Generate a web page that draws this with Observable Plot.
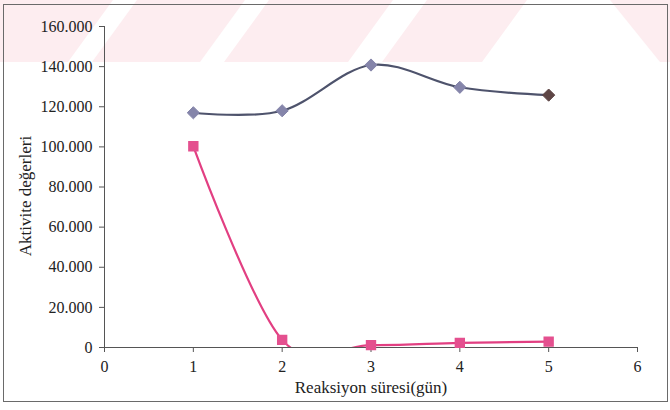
<!DOCTYPE html>
<html>
<head>
<meta charset="utf-8">
<script src="https://cdn.jsdelivr.net/npm/d3@7"></script>
<script src="https://cdn.jsdelivr.net/npm/@observablehq/plot@0.6"></script>
<style>
  html, body { margin: 0; padding: 0; background: #fff; }
  #wrap { position: relative; width: 670px; height: 410px; overflow: hidden; }
  #band { position: absolute; left: 0; top: 0; }
  #frame { position: absolute; left: 3px; top: 4px; width: 663px; height: 396px; border: 1px solid #6a6a6a; }
  #chart { position: absolute; left: 0; top: 0; }
  #chart svg, #chart svg text { font-family: "Times New Roman", "Liberation Serif", serif !important; }
</style>
</head>
<body>
<div id="wrap">
  <svg id="band" width="670" height="62"></svg>
  <div id="frame"></div>
  <div id="chart"></div>
</div>
<script>
// Data
const days = [1, 2, 3, 4, 5];
const seriesA = [117000, 118000, 140800, 129700, 125800];   // diamonds
const seriesAFill = ["#8585aa", "#8585aa", "#8585aa", "#8585aa", "#5e4646"];
const seriesB = [100300, 3800, 1200, 2300, 2900];           // squares
const xTicks = [0, 1, 2, 3, 4, 5, 6];
const yTicks = [0, 20000, 40000, 60000, 80000, 100000, 120000, 140000, 160000];
const xLabel = "Reaksiyon süresi(gün)";
const yLabel = "Aktivite değerleri";

// decorative scan watermark band (background only)
const stripes = [[-60, 68], [92, 200], [224, 348], [382, 482]];
const band = d3.select("#band");
stripes.forEach(([a, b]) => {
  band.append("polygon").attr("points", `${a},62 ${b},62 ${b + 45},0 ${a + 45},0`).attr("fill", "#fdedf0");
});
band.append("polygon").attr("points", "610,0 670,0 670,62 660,62").attr("fill", "#fdedf0");

const locale = d3.formatLocale({decimal: ",", thousands: ".", grouping: [3], currency: ["", ""]});
const fmt = locale.format(",d");

const dataA = days.map((d, i) => ({x: d, y: seriesA[i], f: seriesAFill[i]}));
const dataB = days.map((d, i) => ({x: d, y: seriesB[i]}));

const axisColor = "#555";

const chart = Plot.plot({
  width: 670,
  height: 410,
  marginLeft: 104,
  marginRight: 33,
  marginTop: 26,
  marginBottom: 63,
  style: {fontFamily: "Times New Roman", fontSize: "16px", background: "transparent", color: "#222"},
  x: {domain: [0, 6]},
  y: {domain: [0, 160000]},
  marks: [
    Plot.axisX({ticks: xTicks, tickSize: 5, tickPadding: 8, tickFormat: d => String(d), stroke: axisColor,
      label: null, fill: "#222"}),
    Plot.text([xLabel], {frameAnchor: "bottom", text: d => d, textAnchor: "middle", lineAnchor: "middle",
      dy: 40, fill: "#222", fontSize: 17}),
    Plot.axisY({ticks: yTicks, tickSize: 5, tickPadding: 7, tickFormat: fmt, stroke: axisColor,
      label: null, fill: "#222"}),
    Plot.text([yLabel], {frameAnchor: "left", text: d => d, rotate: -90, textAnchor: "middle",
      dx: -79, dy: 9, fill: "#222", fontSize: 17}),
    Plot.ruleX([0], {stroke: axisColor}),
    Plot.ruleY([0], {stroke: axisColor}),
    Plot.line(dataA, {x: "x", y: "y", curve: "cardinal", stroke: "#4e536c", strokeWidth: 2.2, clip: true}),
    Plot.line(dataB, {x: "x", y: "y", curve: "cardinal", stroke: "#e23f82", strokeWidth: 2.2, clip: true}),
    Plot.dot(dataA, {x: "x", y: "y", symbol: "diamond2", r: 5.5, fill: "f", stroke: "f", strokeWidth: 1}),
    Plot.dot(dataB, {x: "x", y: "y", symbol: "square", r: 5, fill: "#e4508f", stroke: "#e4508f"})
  ]
});
document.getElementById("chart").appendChild(chart);
</script>
</body>
</html>
